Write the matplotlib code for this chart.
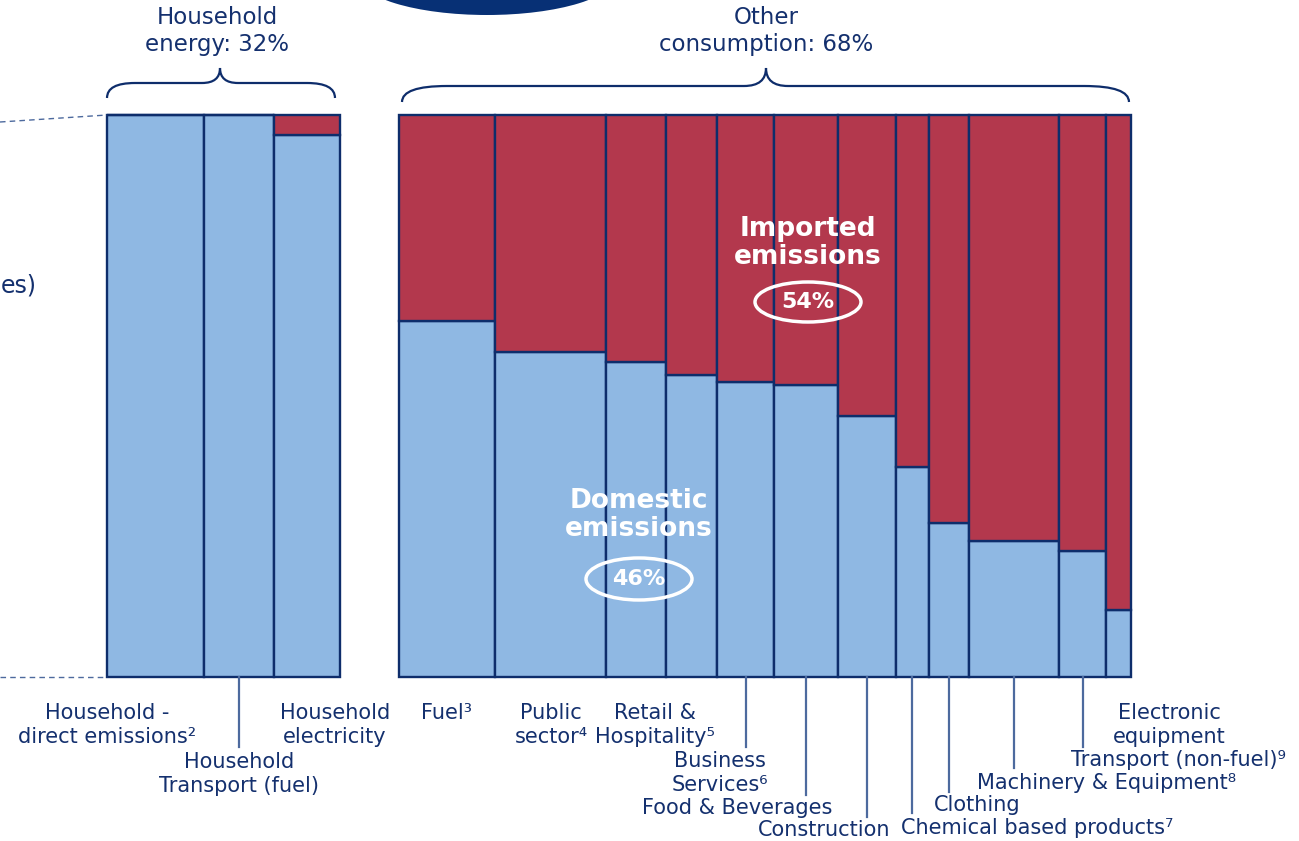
import numpy as np
import matplotlib.pyplot as plt
from matplotlib.patches import Ellipse, PathPatch
from matplotlib.path import Path
from matplotlib.lines import Line2D

W, H = 1299, 841
navy = '#0E2D6B'
txt = '#14306E'
blue = '#8FB8E3'
red = '#B3384D'
lead = '#4D6A9E'

# household energy group (32% of total)
house_labels = ['Household -\ndirect emissions²', 'Household\nTransport (fuel)', 'Household\nelectricity']
house_share = [13.3, 9.6, 9.1]
house_domestic = [100.0, 100.0, 96.5]

# other consumption group (68% of total)
other_labels = ['Fuel³', 'Public\nsector⁴', 'Retail &\nHospitality⁵', '', 'Business\nServices⁶',
                'Food & Beverages', 'Construction', 'Chemical based products⁷', 'Clothing',
                'Machinery & Equipment⁸', 'Transport (non-fuel)⁹', 'Electronic\nequipment']
other_share = [8.9, 10.4, 5.5, 4.8, 5.3, 5.9, 5.4, 3.1, 3.7, 8.4, 4.4, 2.3]
other_domestic = [63.3, 57.8, 56.0, 53.7, 52.5, 52.0, 46.4, 37.4, 27.4, 24.2, 22.4, 11.9]

# label placement (pixels): label centre x, y, end of leader line (None = no leader)
house_layout = [(107, 725, None), (239, 774, 747), (335, 725, None)]
other_layout = [(447, 713, None), (551, 725, None), (655, 725, None), (0, 0, None),
                (720, 773, 747), (737, 808, 795), (824, 830, 817), (1037, 828, 813),
                (977, 805, 792), (1107, 783, 768), (1178, 760, 747), (1169, 725, None)]


def fx(x):
    return x / W


def fy(y):
    return 1 - y / H


fig = plt.figure(figsize=(W / 100, H / 100), dpi=100)

top, bot = 115, 677


def mekko(x0, x1, share, domestic, labels, layout):
    ax = fig.add_axes([fx(x0), fy(bot), (x1 - x0) / W, (bot - top) / H])
    share = np.array(share)
    dom = np.array(domestic)
    left = np.concatenate([[0], np.cumsum(share)[:-1]])
    ax.bar(left, dom, share, align='edge', color=blue, edgecolor=navy, lw=1.7, clip_on=False)
    ax.bar(left, 100 - dom, share, bottom=dom, align='edge', color=red, edgecolor=navy,
           lw=1.7, clip_on=False)
    ax.set_xlim(0, share.sum())
    ax.set_ylim(0, 100)
    ax.axis('off')
    for i, lab in enumerate(labels):
        if not lab:
            continue
        lx, ly, lend = layout[i]
        fig.text(fx(lx), fy(ly), lab, ha='center', va='center', color=txt,
                 fontsize=15, linespacing=1.25)
        if lend is not None:
            xc = left[i] + share[i] / 2
            ax.plot([xc, xc], [0, -(lend - bot) / (bot - top) * 100], color=lead,
                    lw=1.6, clip_on=False)
    return ax


mekko(107, 340, house_share, house_domestic, house_labels, house_layout)
mekko(399, 1131, other_share, other_domestic, other_labels, other_layout)


def brace(x0, x1, xm, yend, ymid, ytip, r, r2):
    pts = [(x0, yend), (x0, ymid), (x0 + r, ymid), (xm - r2, ymid), (xm, ymid), (xm, ytip),
           (xm, ymid), (xm + r2, ymid), (x1 - r, ymid), (x1, ymid), (x1, yend)]
    codes = [Path.MOVETO, Path.CURVE3, Path.CURVE3, Path.LINETO, Path.CURVE3, Path.CURVE3,
             Path.CURVE3, Path.CURVE3, Path.LINETO, Path.CURVE3, Path.CURVE3]
    p = Path([(fx(a), fy(b)) for a, b in pts], codes)
    fig.add_artist(PathPatch(p, fc='none', ec=navy, lw=1.6, transform=fig.transFigure))


brace(107, 335, 220, 98, 83, 68, 28, 18)
brace(402, 1129, 766, 102, 86, 68, 45, 22)

fig.text(fx(217), fy(31), 'Household\nenergy: 32%', ha='center', va='center', color=txt,
         fontsize=16.5, linespacing=1.25)
fig.text(fx(766), fy(31), 'Other\nconsumption: 68%', ha='center', va='center', color=txt,
         fontsize=16.5, linespacing=1.25)

# cut-off elements at the edges
fig.add_artist(Ellipse((fx(487), fy(-25)), 260 / W, 80 / H, fc='#073075', ec='none',
                       transform=fig.transFigure))
fig.add_artist(Line2D([0, fx(107)], [fy(122), fy(115)], color=lead, lw=1, ls=(0, (4, 3))))
fig.add_artist(Line2D([0, fx(107)], [fy(677), fy(677)], color=lead, lw=1, ls=(0, (4, 3))))
fig.text(fx(1), fy(285), 'es)', ha='left', va='center', color=txt, fontsize=17)

# in-chart annotations
fig.text(fx(808), fy(243), 'Imported\nemissions', ha='center', va='center', color='white',
         fontsize=19, fontweight='bold', linespacing=1.05)
fig.add_artist(Ellipse((fx(808), fy(302)), 106 / W, 40 / H, fc='none', ec='white', lw=2.5,
                       transform=fig.transFigure))
fig.text(fx(808), fy(302), '54%', ha='center', va='center', color='white', fontsize=16,
         fontweight='bold')

fig.text(fx(639), fy(515), 'Domestic\nemissions', ha='center', va='center', color='white',
         fontsize=19, fontweight='bold', linespacing=1.05)
fig.add_artist(Ellipse((fx(639), fy(579)), 106 / W, 42 / H, fc='none', ec='white', lw=2.5,
                       transform=fig.transFigure))
fig.text(fx(639), fy(579), '46%', ha='center', va='center', color='white', fontsize=16,
         fontweight='bold')

fig.savefig('out.png', dpi=100)
